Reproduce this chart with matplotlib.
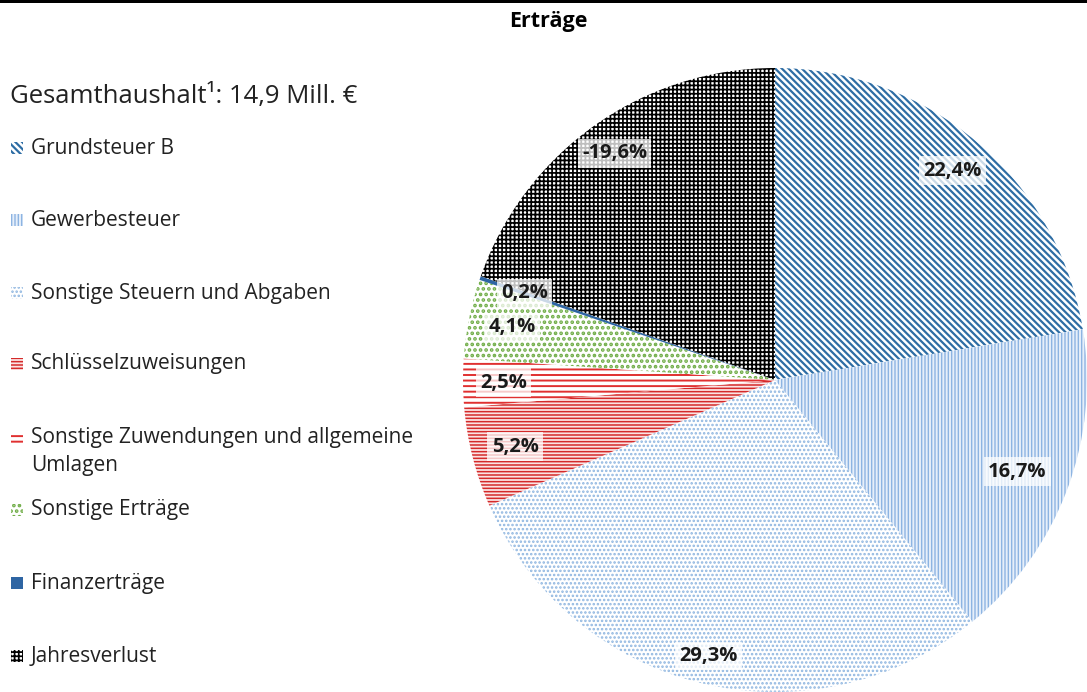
import matplotlib
matplotlib.use("Agg")
import numpy as np
import matplotlib.pyplot as plt
from matplotlib.patches import Rectangle

plt.rcParams['font.family'] = ['Open Sans', 'DejaVu Sans']

# data
title = "Erträge"
total_label = "Gesamthaushalt¹: 14,9 Mill. €"
categories = ["Grundsteuer B", "Gewerbesteuer", "Sonstige Steuern und Abgaben",
              "Schlüsselzuweisungen", "Sonstige Zuwendungen und allgemeine\nUmlagen",
              "Sonstige Erträge", "Finanzerträge", "Jahresverlust"]
shares = [22.4, 16.7, 29.3, 5.2, 2.5, 4.1, 0.2, -19.6]

# fill styles: facecolor, hatch, hatch colour, hatch linewidth
styles = [
    ('white', '\\\\\\\\\\', '#2e6da4', 1.6),
    ('#e6effa', '|||||', '#8db4e2', 1.0),
    ('white', '....', '#8fb6e0', 1.2),
    ('#fbe3e3', '-----', '#d42a2a', 1.1),
    ('white', '---', '#e03030', 1.4),
    ('white', '...', '#70ad47', 1.8),
    ('#2e65a3', None, '#2e65a3', 1.0),
    ('white', '++++', 'black', 1.25),
]
label_r = [0.88, 0.83, 0.91, 0.86, 0.87, 0.86, 0.85, 0.89]

W, H = 1087, 692
fig = plt.figure(figsize=(W / 100, H / 100), dpi=100)

# overlay in pixel coords for title / legend
ov = fig.add_axes([0, 0, 1, 1])
ov.set_xlim(0, W)
ov.set_ylim(H, 0)
ov.axis('off')
ov.add_patch(Rectangle((0, 0), W, 2.5, color='black', lw=0))
ov.text(548, 21, title, ha='center', va='center', fontsize=15.5, fontweight='bold')
ov.text(10, 96, total_label, ha='left', va='center', fontsize=18.5, color='#222222')

leg_y = [148, 220, 293, 364, 438, 510, 583, 656]
for i, (cat, st) in enumerate(zip(categories, styles)):
    fc, hatch, hc, hlw = st
    r = Rectangle((11, leg_y[i] - 6), 12, 12, facecolor=fc, edgecolor=hc,
                  hatch=hatch, lw=0)
    if hasattr(r, 'set_hatch_linewidth'):
        r.set_hatch_linewidth(hlw)
    ov.add_patch(r)
    ov.text(31, leg_y[i], cat.split('\n')[0], ha='left', va='center', fontsize=15,
            color='#222222')
    if '\n' in cat:
        ov.text(31, leg_y[i] + 28, cat.split('\n')[1], ha='left', va='center',
                fontsize=15, color='#222222')

# pie
ax = fig.add_axes([463 / W, 0, 624 / W, 624 / H])
vals = np.abs(shares)
wedges, _ = ax.pie(vals, startangle=90, counterclock=False, radius=1,
                   wedgeprops=dict(linewidth=0))
for w, st in zip(wedges, styles):
    fc, hatch, hc, hlw = st
    w.set_facecolor(fc)
    w.set_edgecolor(hc)
    w.set_hatch(hatch)
    if hasattr(w, 'set_hatch_linewidth'):
        w.set_hatch_linewidth(hlw)
    w.set_clip_on(False)
ax.set_xlim(-1, 1)
ax.set_ylim(-1, 1)
ax.set_aspect('equal')
ax.axis('off')

cum = np.cumsum(vals) - vals / 2
for i, s in enumerate(shares):
    ang = np.deg2rad(90 - cum[i] / vals.sum() * 360)
    txt = f"{s:.1f}%".replace('.', ',')
    ax.text(label_r[i] * np.cos(ang), label_r[i] * np.sin(ang), txt,
            ha='center', va='center', fontsize=14.5, fontweight='bold', color='#1a1a1a',
            bbox=dict(facecolor='white', alpha=0.75, edgecolor='none', pad=3))

fig.savefig('out.png', dpi=100)
